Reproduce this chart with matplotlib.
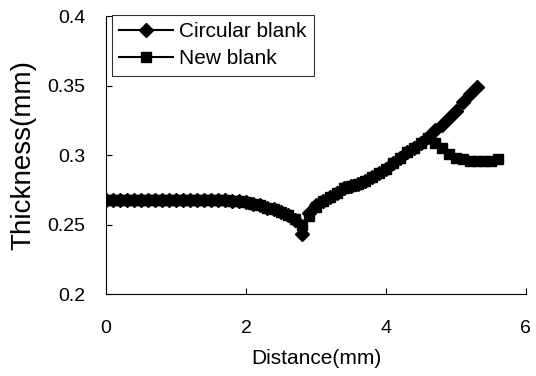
import matplotlib
matplotlib.use('Agg')
import matplotlib.pyplot as plt

# distance (mm) and thickness (mm)
x_circular = [0.0, 0.1, 0.2, 0.3, 0.4, 0.5, 0.6, 0.7, 0.8, 0.9,
              1.0, 1.1, 1.2, 1.3, 1.4, 1.5, 1.6, 1.7, 1.8, 1.9,
              2.0, 2.1, 2.2, 2.3, 2.4, 2.5, 2.6, 2.7, 2.8, 2.9,
              3.0, 3.1, 3.2, 3.3, 3.4, 3.5, 3.6, 3.7, 3.8, 3.9,
              4.0, 4.1, 4.2, 4.3, 4.4, 4.5, 4.6, 4.7, 4.8, 4.9,
              5.0, 5.1, 5.2, 5.3]
t_circular = [0.268, 0.268, 0.268, 0.268, 0.268, 0.268, 0.268, 0.268, 0.268, 0.268,
              0.268, 0.268, 0.268, 0.268, 0.268, 0.268, 0.268, 0.268, 0.267, 0.267,
              0.266, 0.265, 0.264, 0.262, 0.261, 0.259, 0.257, 0.253, 0.243, 0.258,
              0.264, 0.267, 0.270, 0.273, 0.276, 0.278, 0.279, 0.281, 0.284, 0.287,
              0.290, 0.294, 0.298, 0.302, 0.305, 0.309, 0.313, 0.318, 0.322, 0.327,
              0.332, 0.338, 0.344, 0.349]

x_new = [0.0, 0.1, 0.2, 0.3, 0.4, 0.5, 0.6, 0.7, 0.8, 0.9,
         1.0, 1.1, 1.2, 1.3, 1.4, 1.5, 1.6, 1.7, 1.8, 1.9,
         2.0, 2.1, 2.2, 2.3, 2.4, 2.5, 2.6, 2.7, 2.8, 2.9,
         3.0, 3.1, 3.2, 3.3, 3.4, 3.5, 3.6, 3.7, 3.8, 3.9,
         4.0, 4.1, 4.2, 4.3, 4.4, 4.5, 4.6, 4.7, 4.8, 4.9,
         5.0, 5.1, 5.2, 5.3, 5.4, 5.5, 5.6]
t_new = [0.268, 0.268, 0.268, 0.268, 0.268, 0.268, 0.268, 0.268, 0.268, 0.268,
         0.268, 0.268, 0.268, 0.268, 0.268, 0.268, 0.268, 0.268, 0.267, 0.267,
         0.266, 0.265, 0.264, 0.262, 0.261, 0.259, 0.257, 0.254, 0.250, 0.256,
         0.263, 0.267, 0.270, 0.273, 0.276, 0.278, 0.279, 0.281, 0.284, 0.287,
         0.290, 0.294, 0.298, 0.302, 0.305, 0.309, 0.312, 0.309, 0.305, 0.301,
         0.298, 0.297, 0.296, 0.296, 0.296, 0.296, 0.297]

x_ticks = [0, 2, 4, 6]
y_ticks = [0.2, 0.25, 0.3, 0.35, 0.4]
y_tick_labels = ['0.2', '0.25', '0.3', '0.35', '0.4']

plt.rcParams['font.family'] = ['Liberation Sans', 'DejaVu Sans']

fig = plt.figure(figsize=(5.36, 3.76), dpi=100)
ax = fig.add_axes([0.198, 0.218, 0.783, 0.739])

ax.plot(x_circular, t_circular, color='black', lw=2.5, marker='D', ms=7,
        label='Circular blank')
ax.plot(x_new, t_new, color='black', lw=2.5, marker='s', ms=6.5,
        label='New blank')

ax.set_xlim(0, 6)
ax.set_ylim(0.2, 0.4)
ax.set_xticks(x_ticks)
ax.set_yticks(y_ticks)
ax.set_yticklabels(y_tick_labels)
ax.tick_params(direction='in', length=4, width=0.8, labelsize=14)
ax.tick_params(axis='x', pad=19)
ax.tick_params(axis='y', pad=15)

for side in ['top', 'right']:
    ax.spines[side].set_visible(False)
for side in ['left', 'bottom']:
    ax.spines[side].set_linewidth(0.8)

ax.set_xlabel('Distance(mm)', fontsize=15, labelpad=8)
ax.set_ylabel('Thickness(mm)', fontsize=20, labelpad=8)

leg = ax.legend(loc='upper left', bbox_to_anchor=(0.013, 1.005), fontsize=15,
                frameon=True, fancybox=False, edgecolor='black',
                handlelength=2.6, borderpad=0.35, labelspacing=0.4,
                handletextpad=0.3, borderaxespad=0.0)
leg.get_frame().set_linewidth(0.8)
for h in leg.get_lines():
    h.set_linewidth(1.5)

fig.savefig('out.png', dpi=100)
